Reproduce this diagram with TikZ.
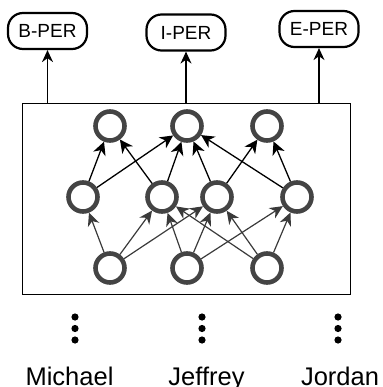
\documentclass[tikz,border=0pt]{standalone}
\usepackage{fontspec}
\setmainfont{Liberation Sans}
\usetikzlibrary{arrows.meta}
\definecolor{nodegray}{HTML}{444444}
\definecolor{edgegray}{HTML}{3A3A3A}
\begin{document}
\begin{tikzpicture}[x=1pt,y=-1pt,
  neuron/.style={circle, draw=nodegray, line width=4.6pt, minimum size=29pt, inner sep=0pt},
  tag/.style={draw=black, line width=2.2pt, rounded corners=15pt, minimum width=79pt,
              minimum height=36pt, inner sep=0pt, font=\fontsize{19}{19}\selectfont},
  word/.style={anchor=base, inner sep=0pt, font=\fontsize{25.5}{25.5}\selectfont},
  tagarrow/.style={-{Stealth[length=12pt,width=11pt]}, line width=1.5pt, black},
  upper/.style={-{Stealth[length=13pt,width=13pt,inset=4pt]}, line width=1.3pt, black},
  lower/.style={-{Stealth[length=13pt,width=12pt,inset=4pt]}, line width=1.2pt, edgegray},
]
\useasboundingbox (0,0) rectangle (382,387);

% output tags
\node[tag] (tB) at (47.5,31) {B-PER};
\node[tag] (tI) at (186,32.5) {I-PER};
\node[tag] (tE) at (319,29) {E-PER};

% network frame
\node[draw=black, line width=1.3pt, minimum width=328pt, minimum height=191pt, inner sep=0pt] (net) at (186.5,199) {};

% neurons
\node[neuron] (t1) at (110,126) {};
\node[neuron] (t2) at (187,126) {};
\node[neuron] (t3) at (267,126) {};
\node[neuron] (m1) at (83,197) {};
\node[neuron] (m2) at (162,197) {};
\node[neuron] (m3) at (217,197) {};
\node[neuron] (m4) at (297,197) {};
\node[neuron] (b1) at (110,268) {};
\node[neuron] (b2) at (187,268) {};
\node[neuron] (b3) at (267,268) {};

% input layer to hidden layer
\foreach \s/\t in {b1/m1,b1/m2,b1/m3,b2/m2,b2/m3,b2/m4,b3/m2,b3/m3,b3/m4}
  \draw[lower] (\s) -- (\t);
% hidden layer to top layer
\foreach \s/\t in {m1/t1,m1/t2,m2/t1,m2/t2,m3/t2,m3/t3,m4/t2,m4/t3}
  \draw[upper] (\s) -- (\t);

% frame to tags
\draw[tagarrow] (tB.south |- net.north) -- (tB.south);
\draw[tagarrow] (tI.south |- net.north) -- (tI.south);
\draw[tagarrow] (tE.south |- net.north) -- (tE.south);

% vertical ellipses
\foreach \x in {75,202,338}
  \foreach \y in {317,328.5,340}
    \fill (\x,\y) circle (3.6pt);

% input words
\node[word] (w1) at (69.5,385) {Michael};
\node[word] (w2) at (206.5,385) {Jeffrey};
\node[word] (w3) at (340,385) {Jordan};
\end{tikzpicture}
\end{document}
